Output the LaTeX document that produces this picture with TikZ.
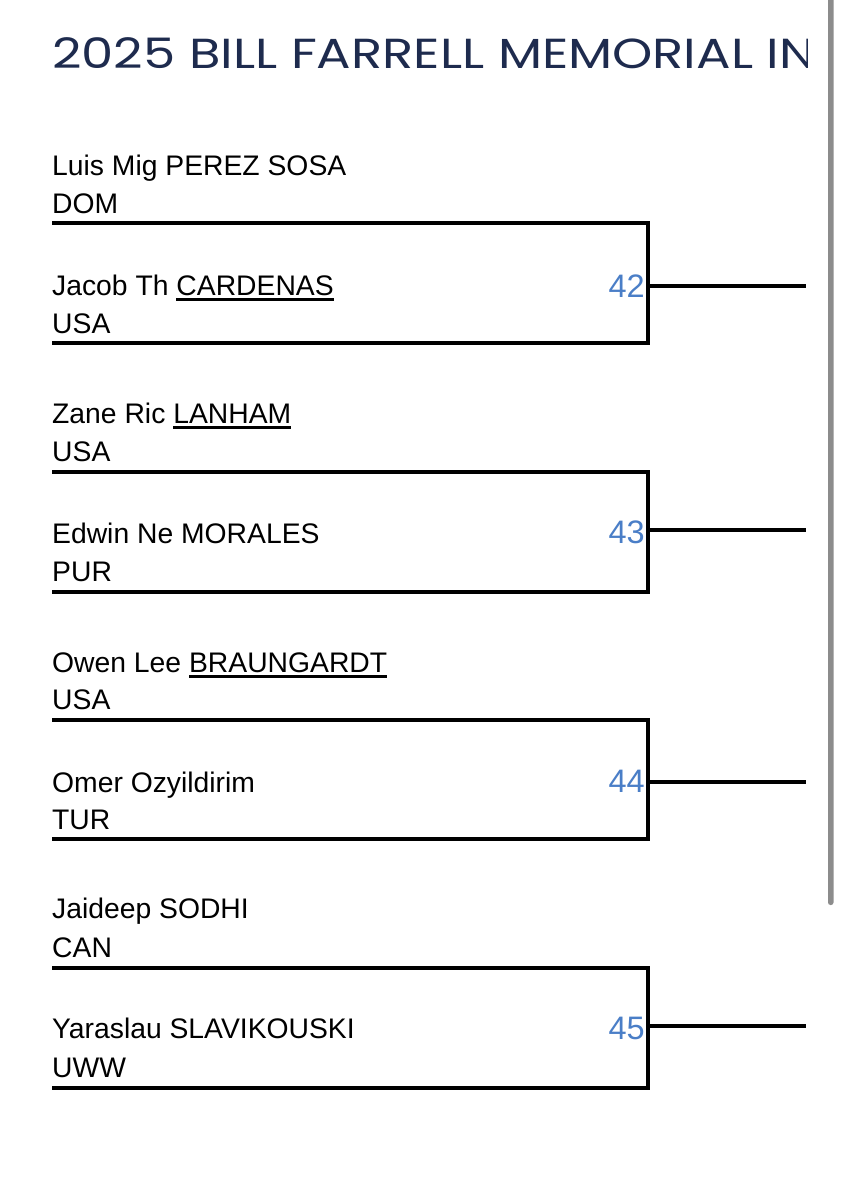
\documentclass[tikz,border=0pt]{standalone}
\usepackage{fontspec}
\setmainfont{Liberation Sans}
\newfontfamily\titlefont{Poppins}
\definecolor{titlenavy}{HTML}{1E2B4E}
\definecolor{matchblue}{HTML}{4A7EC7}
\definecolor{scrollgrey}{HTML}{8C8C8C}
\newcommand\ulname[1]{\setbox0=\hbox{#1}\rlap{\vrule width\wd0 height -3.4pt depth 5.6pt}\box0}
\tikzset{
  playertext/.style={anchor=base west, inner sep=0pt, font=\fontsize{28.3}{34}\selectfont},
  matchno/.style={anchor=base east, inner sep=0pt, text=matchblue, font=\fontsize{32.5}{38}\selectfont},
  titletext/.style={anchor=base west, inner sep=0pt, text=titlenavy, font=\titlefont\fontsize{42}{50}\selectfont},
  bracket/.style={line width=4pt, line join=miter},
  feed/.style={line width=4pt}
}
\begin{document}
\begin{tikzpicture}[x=1pt,y=-1pt]
\useasboundingbox[fill=white] (0,0) rectangle (841,1200);
% title, cut at the right
\begin{scope}
\clip (0,0) rectangle (807,120);
\node[titletext] (title) at (52,68) {\scalebox{1.22}[1]{2025 BILL FARRELL MEMORIAL IN}};
\end{scope}
% scrollbar
\fill[scrollgrey, rounded corners=2.5pt] (828,-5) rectangle (833.5,905);
% group 42
\node[playertext] (p1) at (52,175) {Luis Mig PEREZ SOSA};
\node[playertext] (c1) at (52,213) {DOM};
\node[playertext] (p2) at (52,295) {Jacob Th \ulname{CARDENAS}};
\node[playertext] (c2) at (52,333) {USA};
\node[matchno] (m42) at (645,297) {42};
\coordinate (a1) at (52,223); \coordinate (b1) at (648,223);
\coordinate (d1) at (648,343); \coordinate (e1) at (52,343);
\coordinate (o1) at (648,286); \coordinate (f1) at (806,286);
\draw[bracket] (a1) -- (b1) -- (d1) -- (e1);
\draw[feed] (o1) -- (f1);
% group 43
\node[playertext] (p3) at (52,423) {Zane Ric \ulname{LANHAM}};
\node[playertext] (c3) at (52,461) {USA};
\node[playertext] (p4) at (52,543) {Edwin Ne MORALES};
\node[playertext] (c4) at (52,581) {PUR};
\node[matchno] (m43) at (645,543) {43};
\coordinate (a2) at (52,472); \coordinate (b2) at (648,472);
\coordinate (d2) at (648,592); \coordinate (e2) at (52,592);
\coordinate (o2) at (648,530); \coordinate (f2) at (806,530);
\draw[bracket] (a2) -- (b2) -- (d2) -- (e2);
\draw[feed] (o2) -- (f2);
% group 44
\node[playertext] (p5) at (52,672) {Owen Lee \ulname{BRAUNGARDT}};
\node[playertext] (c5) at (52,709) {USA};
\node[playertext] (p6) at (52,792) {Omer Ozyildirim};
\node[playertext] (c6) at (52,829) {TUR};
\node[matchno] (m44) at (645,792) {44};
\coordinate (a3) at (52,720); \coordinate (b3) at (648,720);
\coordinate (d3) at (648,839); \coordinate (e3) at (52,839);
\coordinate (o3) at (648,782); \coordinate (f3) at (806,782);
\draw[bracket] (a3) -- (b3) -- (d3) -- (e3);
\draw[feed] (o3) -- (f3);
% group 45
\node[playertext] (p7) at (52,918) {Jaideep SODHI};
\node[playertext] (c7) at (52,957) {CAN};
\node[playertext] (p8) at (52,1038) {Yaraslau SLAVIKOUSKI};
\node[playertext] (c8) at (52,1077) {UWW};
\node[matchno] (m45) at (645,1039) {45};
\coordinate (a4) at (52,968); \coordinate (b4) at (648,968);
\coordinate (d4) at (648,1088); \coordinate (e4) at (52,1088);
\coordinate (o4) at (648,1026); \coordinate (f4) at (806,1026);
\draw[bracket] (a4) -- (b4) -- (d4) -- (e4);
\draw[feed] (o4) -- (f4);
\end{tikzpicture}
\end{document}
